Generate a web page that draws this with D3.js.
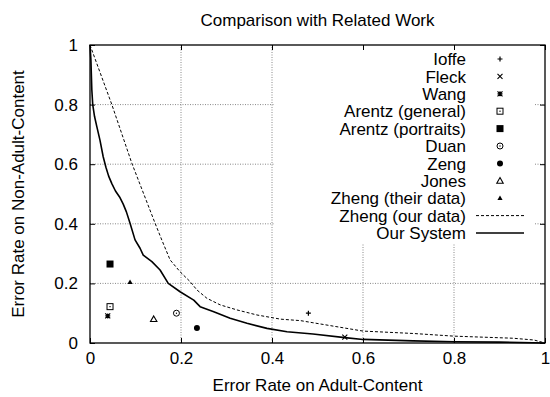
<!DOCTYPE html>
<html>
<head>
<meta charset="utf-8">
<script src="https://cdn.jsdelivr.net/npm/d3@7"></script>
<style>
  body { margin: 0; background: #fff; }
  svg text { font-family: "Liberation Sans", Arial, sans-serif; fill: #000; }
</style>
</head>
<body>
<div id="chart"></div>
<script>
// related work: single operating points [error adult, error non-adult]
const pointNames = ["Ioffe", "Fleck", "Wang", "Arentz (general)", "Arentz (portraits)",
                    "Duan", "Zeng", "Jones", "Zheng (their data)"];
const pointX = [0.48, 0.56, 0.039, 0.044, 0.044, 0.19, 0.235, 0.14, 0.088];
const pointY = [0.10, 0.02, 0.091, 0.122, 0.265, 0.10, 0.05, 0.08, 0.204];
const pointSymbols = ["plus", "cross", "star", "openSquare", "square",
                      "openCircle", "circle", "openTriangle", "triangle"];

// Zheng (our data) curve
const zhengX = [0, 0.048, 0.092, 0.143, 0.158, 0.176, 0.198, 0.22, 0.235, 0.257, 0.286,
                0.323, 0.367, 0.419, 0.463, 0.49, 0.60, 0.71, 0.80, 0.93, 0.976, 1];
const zhengY = [1, 0.80, 0.603, 0.402, 0.345, 0.279, 0.239, 0.206, 0.178, 0.15, 0.128,
                0.111, 0.094, 0.080, 0.075, 0.068, 0.04, 0.032, 0.023, 0.016, 0.01, 0];

// Our System curve
const oursX = [0, 0.002, 0.004, 0.006, 0.01, 0.015, 0.022, 0.029, 0.035, 0.041, 0.048,
               0.056, 0.065, 0.073, 0.080, 0.088, 0.099, 0.11, 0.117, 0.136, 0.154,
               0.172, 0.198, 0.228, 0.242, 0.272, 0.308, 0.345, 0.389, 0.433, 0.49,
               0.56, 0.60, 0.71, 0.80, 0.9, 1];
const oursY = [1, 0.95, 0.85, 0.80, 0.76, 0.726, 0.68, 0.625, 0.59, 0.56, 0.535,
               0.51, 0.49, 0.466, 0.44, 0.402, 0.346, 0.318, 0.295, 0.273, 0.245,
               0.20, 0.172, 0.144, 0.122, 0.105, 0.083, 0.066, 0.049, 0.038, 0.030,
               0.018, 0.012, 0.007, 0.004, 0.003, 0];

const ticks = [0, 0.2, 0.4, 0.6, 0.8, 1];

const width = 550, height = 397;
const margin = { top: 45, right: 5, bottom: 54, left: 90 };

const xScale = d3.scaleLinear().domain([0, 1]).range([margin.left, width - margin.right]);
const yScale = d3.scaleLinear().domain([0, 1]).range([height - margin.bottom, margin.top]);

const svg = d3.select("#chart").append("svg")
  .attr("width", width)
  .attr("height", height);

// gridlines
svg.append("g")
  .attr("class", "grid")
  .selectAll("line.gx")
  .data(ticks.slice(1, -1))
  .join("line")
  .attr("x1", d => xScale(d)).attr("x2", d => xScale(d))
  .attr("y1", yScale(0)).attr("y2", yScale(1))
  .attr("stroke", "#888").attr("stroke-width", 1)
  .attr("stroke-dasharray", "1,1.5");

svg.append("g")
  .attr("class", "grid")
  .selectAll("line.gy")
  .data(ticks.slice(1, -1))
  .join("line")
  .attr("x1", xScale(0)).attr("x2", xScale(1))
  .attr("y1", d => yScale(d)).attr("y2", d => yScale(d))
  .attr("stroke", "#888").attr("stroke-width", 1)
  .attr("stroke-dasharray", "1,1.5");

// opaque key box (hides grid behind legend)
svg.append("rect")
  .attr("x", 275).attr("y", yScale(1))
  .attr("width", 259).attr("height", 198)
  .attr("fill", "#fff");

// axes: ticks inward, mirrored
const xAxis = d3.axisBottom(xScale).tickValues(ticks).tickSize(-5).tickPadding(9)
  .tickFormat(d3.format("~g"));
const yAxis = d3.axisLeft(yScale).tickValues(ticks).tickSize(-5).tickPadding(12)
  .tickFormat(d3.format("~g"));

const gx = svg.append("g")
  .attr("transform", `translate(0,${yScale(0)})`)
  .call(xAxis);
gx.selectAll("text").attr("font-size", 17);

const gy = svg.append("g")
  .attr("transform", `translate(${xScale(0)},0)`)
  .call(yAxis);
gy.selectAll("text").attr("font-size", 17);

svg.append("g")
  .attr("transform", `translate(0,${yScale(1)})`)
  .call(d3.axisTop(xScale).tickValues(ticks).tickSize(-5).tickFormat(""));
svg.append("g")
  .attr("transform", `translate(${xScale(1)},0)`)
  .call(d3.axisRight(yScale).tickValues(ticks).tickSize(-5).tickFormat(""));

svg.selectAll(".domain").remove();
svg.selectAll(".tick line").attr("stroke", "#000");

// border
svg.append("rect")
  .attr("x", xScale(0)).attr("y", yScale(1))
  .attr("width", xScale(1) - xScale(0))
  .attr("height", yScale(0) - yScale(1))
  .attr("fill", "none").attr("stroke", "#000").attr("stroke-width", 1.3);

// curves
const line = d3.line().x(d => xScale(d[0])).y(d => yScale(d[1]));

svg.append("path")
  .datum(zhengX.map((x, i) => [x, zhengY[i]]))
  .attr("fill", "none").attr("stroke", "#000").attr("stroke-width", 1)
  .attr("stroke-dasharray", "3,2")
  .attr("d", line);

svg.append("path")
  .datum(oursX.map((x, i) => [x, oursY[i]]))
  .attr("fill", "none").attr("stroke", "#000").attr("stroke-width", 1.6)
  .attr("stroke-linejoin", "round")
  .attr("d", line);

// point symbols
function drawSymbol(g, type) {
  switch (type) {
    case "plus":
      g.append("path").attr("d", "M-2.5,0H2.5M0,-2.5V2.5").attr("stroke", "#000").attr("stroke-width", 1.2);
      break;
    case "cross":
      g.append("path").attr("d", "M-2.5,-2.5L2.5,2.5M-2.5,2.5L2.5,-2.5").attr("stroke", "#000").attr("stroke-width", 1.1);
      break;
    case "star":
      g.append("path").attr("d", "M-2.5,-2.5L2.5,2.5M-2.5,2.5L2.5,-2.5M-2.5,0H2.5M0,-2.5V2.5").attr("stroke", "#000").attr("stroke-width", 1.2);
      break;
    case "openSquare":
      g.append("rect").attr("x", -3).attr("y", -3).attr("width", 6).attr("height", 6)
        .attr("fill", "none").attr("stroke", "#000").attr("stroke-width", 1);
      g.append("rect").attr("x", -0.6).attr("y", -0.6).attr("width", 1.2).attr("height", 1.2).attr("fill", "#000");
      break;
    case "square":
      g.append("rect").attr("x", -3.5).attr("y", -3.5).attr("width", 7).attr("height", 7).attr("fill", "#000");
      break;
    case "openCircle":
      g.append("circle").attr("r", 3).attr("fill", "none").attr("stroke", "#000").attr("stroke-width", 1);
      g.append("circle").attr("r", 0.7).attr("fill", "#000");
      break;
    case "circle":
      g.append("circle").attr("r", 3).attr("fill", "#000");
      break;
    case "openTriangle":
      g.append("path").attr("d", "M0,-3.2L3.2,2.4H-3.2Z").attr("fill", "none").attr("stroke", "#000").attr("stroke-width", 1.1);
      break;
    case "triangle":
      g.append("path").attr("d", "M0,-2.6L2.6,1.9H-2.6Z").attr("fill", "#000");
      break;
  }
}

pointNames.forEach((name, i) => {
  const g = svg.append("g").attr("transform", `translate(${xScale(pointX[i])},${yScale(pointY[i])})`);
  drawSymbol(g, pointSymbols[i]);
});

// legend
const legendTop = 59, legendStep = 17.4, legendTextRight = 466, legendSymX = 500;
const legendNames = pointNames.concat(["Zheng (our data)", "Our System"]);
legendNames.forEach((name, i) => {
  const y = legendTop + i * legendStep;
  svg.append("text")
    .attr("x", legendTextRight).attr("y", y)
    .attr("dy", "0.36em")
    .attr("text-anchor", "end")
    .attr("font-size", 17)
    .text(name);
  if (i < pointNames.length) {
    const g = svg.append("g").attr("transform", `translate(${legendSymX},${y})`);
    drawSymbol(g, pointSymbols[i]);
  } else if (name === "Zheng (our data)") {
    svg.append("line").attr("x1", 476).attr("x2", 524).attr("y1", y).attr("y2", y)
      .attr("stroke", "#000").attr("stroke-width", 1).attr("stroke-dasharray", "3,2");
  } else {
    svg.append("line").attr("x1", 476).attr("x2", 524).attr("y1", y).attr("y2", y)
      .attr("stroke", "#000").attr("stroke-width", 1.6);
  }
});

// titles
svg.append("text")
  .attr("x", (xScale(0) + xScale(1)) / 2).attr("y", 26)
  .attr("text-anchor", "middle")
  .attr("font-size", 17)
  .text("Comparison with Related Work");

svg.append("text")
  .attr("x", (xScale(0) + xScale(1)) / 2).attr("y", 391)
  .attr("text-anchor", "middle")
  .attr("font-size", 17)
  .text("Error Rate on Adult-Content");

svg.append("text")
  .attr("transform", `translate(24,${(yScale(0) + yScale(1)) / 2}) rotate(-90)`)
  .attr("text-anchor", "middle")
  .attr("font-size", 17)
  .text("Error Rate on Non-Adult-Content");
</script>
</body>
</html>
